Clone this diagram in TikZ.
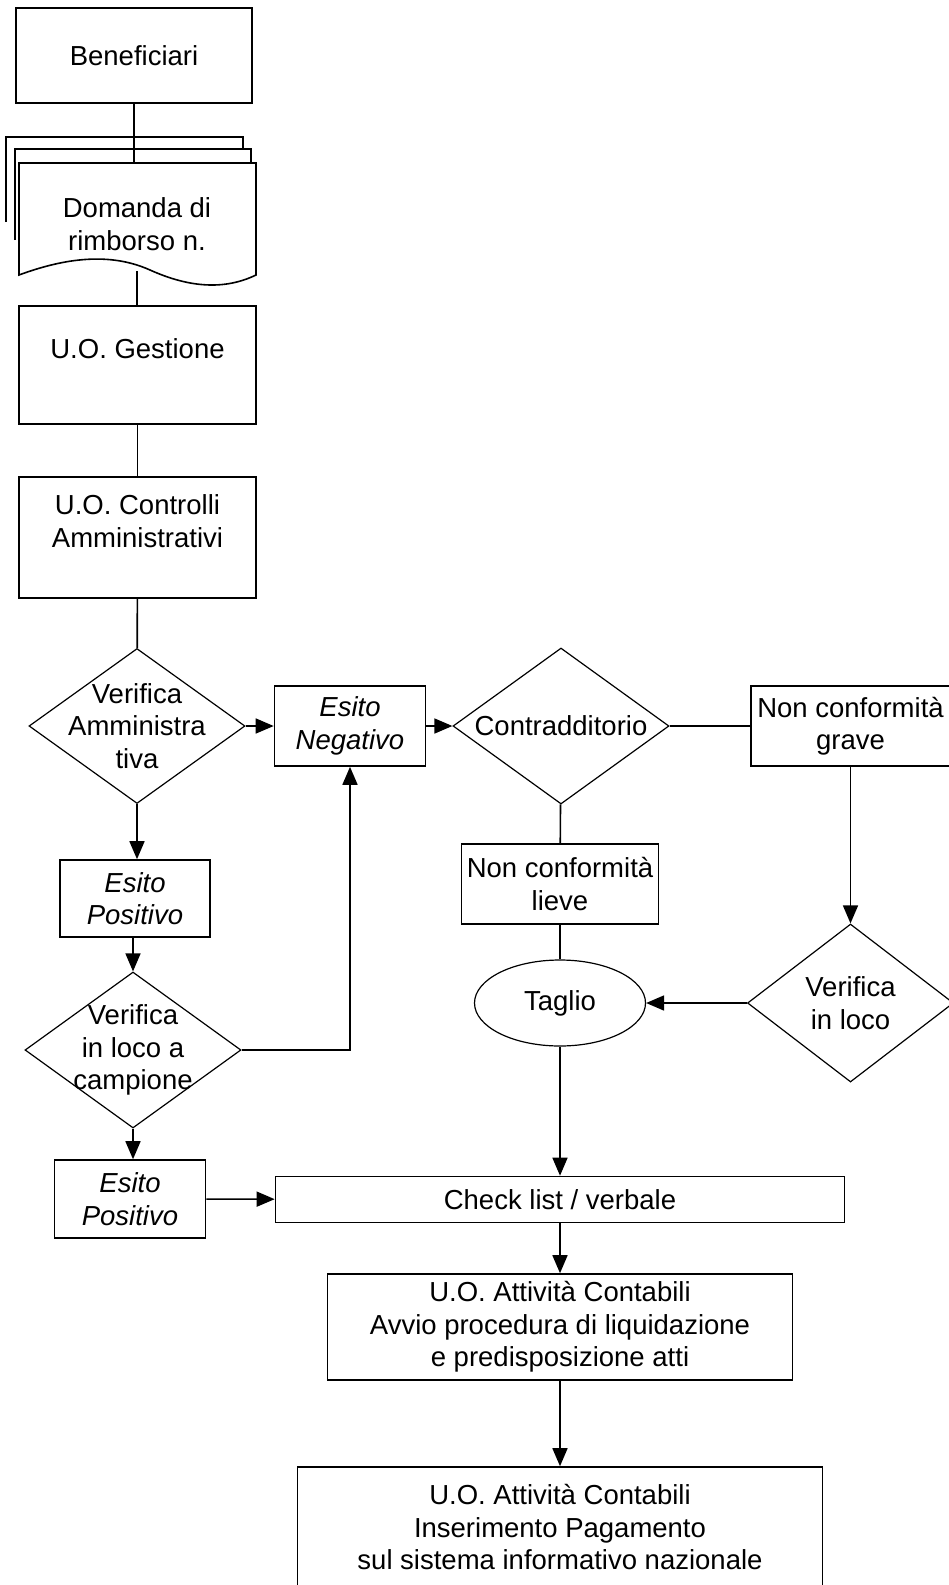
\documentclass[tikz,border=0pt]{standalone}
\usepackage{fontspec}
\setmainfont{Liberation Sans}
\usepackage{tikz}
\usetikzlibrary{shapes.geometric}
\usetikzlibrary{arrows.meta}

\begin{document}
\begin{tikzpicture}[x=1pt,y=-1pt,
	font=\fontsize{27.5}{32.5}\selectfont,
	box/.style={draw,line width=1.6pt,inner sep=0pt,align=center,fill=white},
	esito/.style={box,font=\fontsize{27.5}{32.5}\selectfont\itshape},
	decision/.style={diamond,draw,line width=1.2pt,inner sep=0pt},
	link/.style={line width=1.6pt},
	arr/.style={link,-{Triangle[length=18pt,width=15pt]}}]
	\useasboundingbox (0,0) rectangle (948,1585);
	
	\node[box,minimum width=236,minimum height=95] (ben) at (134,55.5) {Beneficiari};
	
	% domanda di rimborso (fogli)
	\draw[link] (6,222) -- (6,137) -- (243,137) -- (243,149);
	\draw[link] (15,240) -- (15,149) -- (251,149) -- (251,163);
	\draw[link,fill=white] (19,163) -- (256,163) -- (256,275) .. controls (225,290) and (190,288) .. (150,270) .. controls (110,252) and (65,258) .. (19,275) -- cycle;
	\node[align=center] (doc) at (137,224) {Domanda di\\rimborso n.};
	\coordinate (docTop) at (134,163);
	\coordinate (docBot) at (137,271);
	
	\node[box,minimum width=237,minimum height=118] (ges) at (137.5,365) {U.O. Gestione\\\mbox{}};
	\node[box,minimum width=237,minimum height=121] (ctrl) at (137.5,537.5) {U.O. Controlli\\Amministrativi\\\mbox{}};
	
	\node[decision,minimum width=216,minimum height=155,label={[align=center]center:Verifica\\Amministra\\tiva}] (va) at (137,726) {};
	\node[esito,minimum width=151,minimum height=80] (eneg) at (350,726) {Esito\\Negativo};
	\node[decision,minimum width=216,minimum height=156,label={center:Contradditorio}] (contr) at (561,726) {};
	\node[box,minimum width=199,minimum height=80] (grave) at (850.5,726) {Non conformità\\grave};
	\node[box,minimum width=197,minimum height=80] (lieve) at (560,884) {Non conformità\\lieve};
	\node[ellipse,draw,line width=1.2pt,inner sep=0pt,minimum width=171,minimum height=86] (taglio) at (560,1003) {Taglio};
	\node[decision,minimum width=206,minimum height=158,label={[align=center]center:Verifica\\in loco}] (vloco) at (850.5,1003) {};
	
	\node[esito,minimum width=150,minimum height=77] (epos1) at (135,898.5) {Esito\\Positivo};
	\node[decision,minimum width=216,minimum height=156,label={[align=center]center:Verifica\\in loco a\\campione}] (vcamp) at (133,1050) {};
	\node[esito,minimum width=151,minimum height=78] (epos2) at (130,1199) {Esito\\Positivo};
	
	\node[box,minimum width=569,minimum height=46] (check) at (560,1199.5) {Check list / verbale};
	\node[box,minimum width=465,minimum height=106] (att1) at (560,1327) {U.O. Attività Contabili\\Avvio procedura di liquidazione\\e predisposizione atti};
	\node[box,minimum width=525,minimum height=120] (att2) at (560,1527) {U.O. Attività Contabili\\Inserimento Pagamento\\sul sistema informativo nazionale};
	
	\draw[link] (ben) -- (ben |- docTop);
	\draw[link] (docBot) -- (docBot |- ges.north);
	\draw[link] (ges) -- (ctrl);
	\draw[link] (ctrl) -- (va);
	\draw[arr] (va) -- (eneg);
	\draw[arr] (eneg) -- (contr);
	\draw[link] (contr) -- (grave);
	\draw[link] (contr) -- (lieve);
	\draw[link] (lieve) -- (taglio);
	\draw[arr] (grave) -- (vloco);
	\draw[arr] (vloco) -- (taglio);
	\draw[arr] (taglio) -- (check);
	\draw[arr] (va.south) -- (va.south |- epos1.north);
	\draw[arr] (vcamp.north |- epos1.south) -- (vcamp.north);
	\draw[arr] (vcamp.south) -- (vcamp.south |- epos2.north);
	\draw[arr] (vcamp.east) -| (eneg.south);
	\draw[arr] (epos2) -- (check);
	\draw[arr] (check) -- (att1);
	\draw[arr] (att1) -- (att2);
	
\end{tikzpicture}
\end{document}
